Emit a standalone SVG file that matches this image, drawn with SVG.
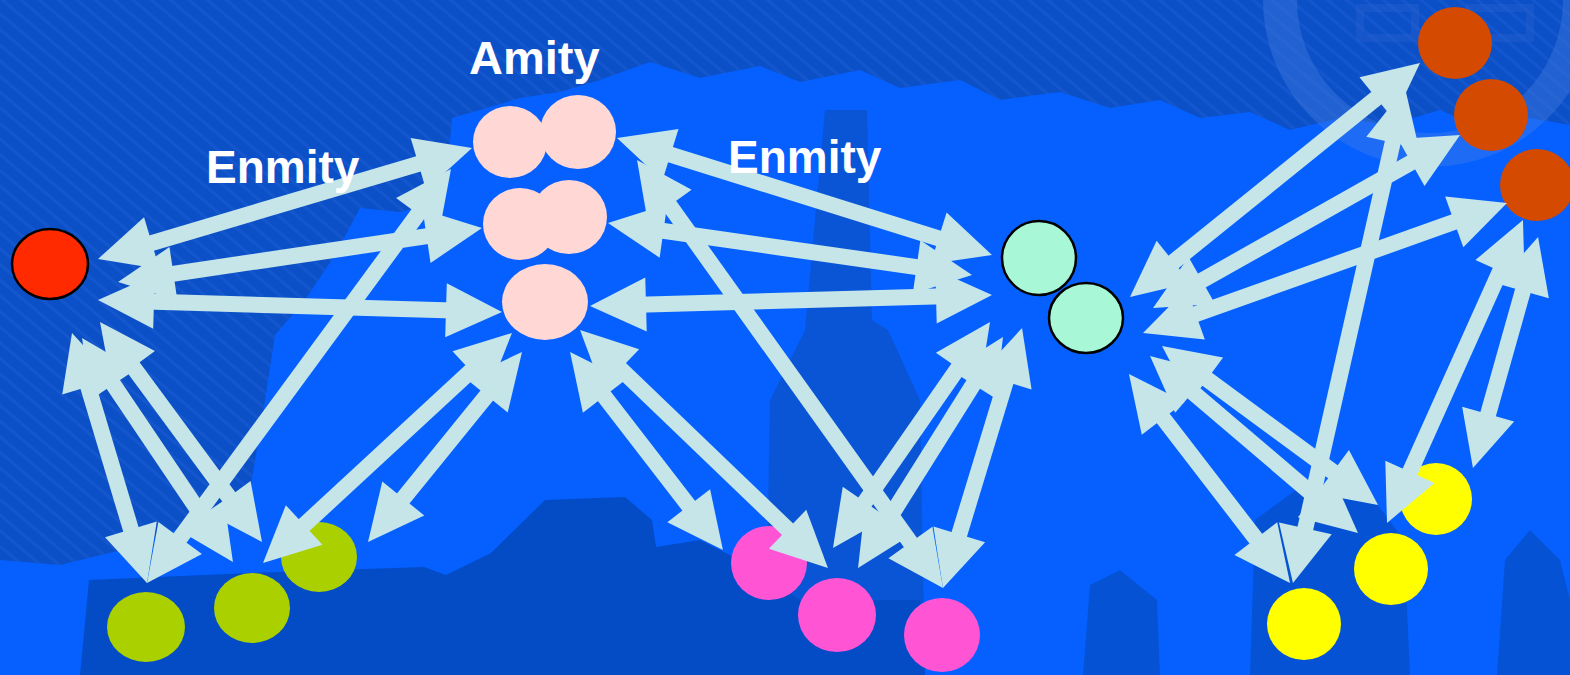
<svg xmlns="http://www.w3.org/2000/svg" width="1570" height="675" viewBox="0 0 1570 675">
  <defs>
    <style>
      .link { stroke: #C5E5E9; stroke-width: 16; fill: none; marker-start: url(#head); marker-end: url(#head); }
      .label { font-family: "Liberation Sans", Arial, sans-serif; font-weight: bold; font-size: 46px; fill: #FFFFFF; }
      .outlined { stroke: #000000; stroke-width: 2.5; }
    </style>
    <marker id="head" markerUnits="userSpaceOnUse" viewBox="-20 -30 70 60" markerWidth="70" markerHeight="60" refX="0" refY="0" orient="auto-start-reverse" overflow="visible">
      <path d="M-16,-27 L40,0 L-16,27 Z" fill="#C5E5E9"/>
    </marker>
    <pattern id="streaks" patternUnits="userSpaceOnUse" width="12" height="12" patternTransform="rotate(-50)">
      <rect x="0" y="0" width="3" height="12" fill="#4A86F0" opacity="0.12"/>
    </pattern>
    <path id="upper-haze" d="M0,0 H1570 V125 L1530,118 L1480,128 L1440,110 L1390,125 L1340,118 L1290,130 L1250,112 L1200,118 L1160,100 L1110,108 L1060,92 L1000,100 L960,80 L900,88 L860,70 L800,82 L760,66 L700,78 L650,62 L600,80 L560,92 L520,98 L480,110 L452,118 L445,200 L400,212 L360,208 L335,255 L305,300 L275,335 L262,420 L250,490 L200,520 L130,548 L60,565 L0,560 Z"/>
  </defs>

  <!-- backdrop: tinted crowd photo -->
  <g id="backdrop">
    <rect width="1570" height="675" fill="#0560FF"/>
    <use href="#upper-haze" fill="#0C50C8"/>
    <use href="#upper-haze" fill="url(#streaks)"/>
    <!-- pale wheel shape, upper right -->
    <circle cx="1430" cy="0" r="150" fill="none" stroke="#4E82E2" stroke-width="34" opacity="0.35"/>
    <rect x="1360" y="8" width="55" height="30" fill="none" stroke="#2F66D2" stroke-width="8" opacity="0.3"/>
    <rect x="1470" y="8" width="60" height="30" fill="none" stroke="#2F66D2" stroke-width="8" opacity="0.3"/>
    <!-- standing figure, centre -->
    <path d="M825,110 L867,110 L872,320 L888,330 L920,400 L925,675 L765,675 L770,400 L805,330 Z" fill="#0A55D6"/>
    <!-- dark crowd along the bottom -->
    <path d="M80,675 L89,580 L250,573 L424,567 L446,575 L491,553 L545,500 L625,497 L652,520 L656,547 L700,540 L740,560 L770,580 L800,600 L920,600 L925,675 Z" fill="#034CC6"/>
    <path d="M1250,675 L1255,520 L1300,487 L1370,495 L1404,540 L1410,675 Z" fill="#0553D4"/>
    <path d="M1083,675 L1090,585 L1120,570 L1157,600 L1160,675 Z" fill="#0553D4"/>
    <path d="M1497,675 L1505,560 L1530,530 L1560,560 L1570,600 L1570,675 Z" fill="#0553D4"/>
  </g>

  <!-- nodes -->
  <g id="node-red"><ellipse cx="50" cy="264" rx="38" ry="35" fill="#FF2A00" class="outlined"/></g>
  <g id="amity-group" fill="#FFD8D6">
    <ellipse id="pink-2" cx="578" cy="132" rx="38" ry="37"/>
    <ellipse id="pink-1" cx="510" cy="142" rx="37" ry="36"/>
    <ellipse id="pink-4" cx="569" cy="217" rx="38" ry="37"/>
    <ellipse id="pink-3" cx="520" cy="224" rx="37" ry="36"/>
    <ellipse id="pink-5" cx="545" cy="302" rx="43" ry="38"/>
  </g>
  <g id="green-group" fill="#AAD000">
    <ellipse id="green-1" cx="146" cy="627" rx="39" ry="35"/>
    <ellipse id="green-2" cx="252" cy="608" rx="38" ry="35"/>
    <ellipse id="green-3" cx="319" cy="557" rx="38" ry="35"/>
  </g>
  <g id="magenta-group" fill="#FF55D5">
    <ellipse id="magenta-1" cx="769" cy="563" rx="38" ry="37"/>
    <ellipse id="magenta-2" cx="837" cy="615" rx="39" ry="37"/>
    <ellipse id="magenta-3" cx="942" cy="635" rx="38" ry="37"/>
  </g>
  <g id="teal-group" fill="#A8F8D8" class="outlined">
    <ellipse id="teal-1" cx="1039" cy="258" rx="37" ry="37"/>
    <ellipse id="teal-2" cx="1086" cy="318" rx="37" ry="35"/>
  </g>
  <g id="orange-group" fill="#D44A00">
    <ellipse id="orange-1" cx="1455" cy="43" rx="37" ry="36"/>
    <ellipse id="orange-2" cx="1491" cy="115" rx="37" ry="36"/>
    <ellipse id="orange-3" cx="1537" cy="185" rx="37" ry="36"/>
  </g>
  <g id="yellow-group" fill="#FFFF00">
    <ellipse id="yellow-1" cx="1436" cy="499" rx="36" ry="36"/>
    <ellipse id="yellow-2" cx="1391" cy="569" rx="37" ry="36"/>
    <ellipse id="yellow-3" cx="1304" cy="624" rx="37" ry="36"/>
  </g>

  <!-- two-way ties -->
  <g id="connectors" class="links">
    <line class="link" x1="136.4" y1="247.6" x2="433.7" y2="159.4"/>
    <line class="link" x1="157.6" y1="276.1" x2="442.4" y2="233.9"/>
    <line class="link" x1="138" y1="301.2" x2="462" y2="310.8"/>
    <line class="link" x1="83.5" y1="371.3" x2="135.5" y2="544.7"/>
    <line class="link" x1="104.4" y1="371.2" x2="210.6" y2="528.8"/>
    <line class="link" x1="123.7" y1="354.2" x2="238.3" y2="509.8"/>
    <line class="link" x1="482.6" y1="360.1" x2="292.4" y2="535.9"/>
    <line class="link" x1="496.8" y1="383.1" x2="393.2" y2="510.9"/>
    <line class="link" x1="170.7" y1="550.8" x2="427.3" y2="201.2"/>
    <line class="link" x1="655.2" y1="149.9" x2="953.8" y2="243.1"/>
    <line class="link" x1="647.6" y1="228.7" x2="932.4" y2="269.3"/>
    <line class="link" x1="630" y1="304.9" x2="952" y2="296.1"/>
    <line class="link" x1="660.3" y1="192.5" x2="919.7" y2="555.5"/>
    <line class="link" x1="594.5" y1="383.7" x2="698.5" y2="518.4"/>
    <line class="link" x1="608.9" y1="357.7" x2="799.1" y2="540.3"/>
    <line class="link" x1="967.2" y1="354.9" x2="855.8" y2="515.2"/>
    <line class="link" x1="981.7" y1="370.9" x2="879.3" y2="534.1"/>
    <line class="link" x1="1010.4" y1="366.3" x2="954.6" y2="549.7"/>
    <line class="link" x1="1161.1" y1="271.9" x2="1388.9" y2="88.1"/>
    <line class="link" x1="1187.9" y1="288.4" x2="1425.2" y2="154.6"/>
    <line class="link" x1="1180.7" y1="319.5" x2="1469.3" y2="216.5"/>
    <line class="link" x1="1396.2" y1="127" x2="1301.8" y2="544"/>
    <line class="link" x1="1153.4" y1="405.7" x2="1265.6" y2="551.3"/>
    <line class="link" x1="1180.5" y1="381.9" x2="1327.5" y2="507.1"/>
    <line class="link" x1="1194.2" y1="369.7" x2="1345.8" y2="481.3"/>
    <line class="link" x1="1506.6" y1="256.5" x2="1403.4" y2="486.5"/>
    <line class="link" x1="1527.2" y1="275.5" x2="1483.8" y2="429.5"/>
  </g>

  <!-- captions -->
  <g id="labels">
    <text class="label" x="469" y="74" style="font-size:47px">Amity</text>
    <text class="label" x="206" y="183">Enmity</text>
    <text class="label" x="728" y="173">Enmity</text>
  </g>
</svg>
